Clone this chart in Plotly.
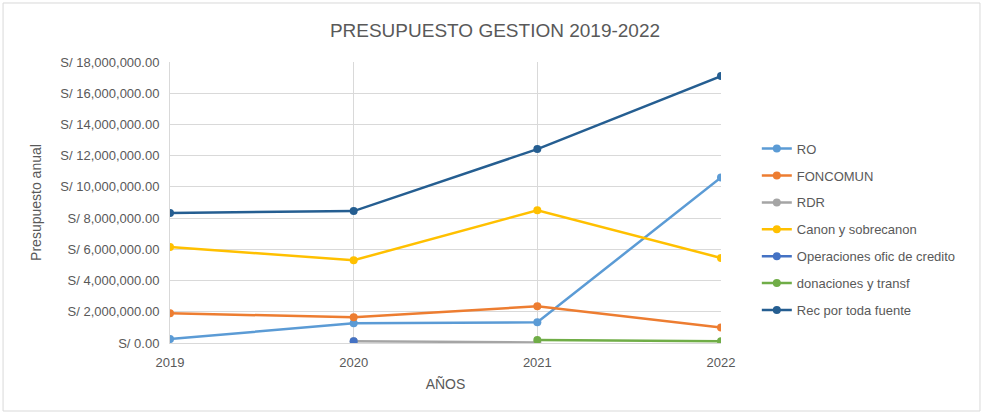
import plotly.graph_objects as go

years = [2019, 2020, 2021, 2022]

ro = [250000, 1270000, 1330000, 10600000]
foncomun = [1900000, 1650000, 2350000, 1000000]
rdr = [None, 120000, 40000, None]
canon = [6150000, 5300000, 8500000, 5450000]
operaciones = [None, 120000, None, None]
donaciones = [None, None, 200000, 120000]
rec_total = [8330000, 8450000, 12420000, 17100000]

y_ticks = [0, 2000000, 4000000, 6000000, 8000000, 10000000, 12000000, 14000000, 16000000, 18000000]
y_ticktext = [f"S/ {v:,.2f}" for v in y_ticks]

series = [
    ("RO", ro, "#5B9BD5"),
    ("FONCOMUN", foncomun, "#ED7D31"),
    ("RDR", rdr, "#A5A5A5"),
    ("Canon y sobrecanon", canon, "#FFC000"),
    ("Operaciones ofic de credito", operaciones, "#4472C4"),
    ("donaciones y transf", donaciones, "#70AD47"),
    ("Rec por toda fuente", rec_total, "#255E91"),
]

font = "Liberation Sans, Arial, sans-serif"

fig = go.Figure()
for name, vals, color in series:
    fig.add_trace(go.Scatter(
        x=years, y=vals, name=name, mode="lines+markers",
        line=dict(color=color, width=2.5),
        marker=dict(color=color, size=8),
        legendgroup=name,
    ))

fig.update_layout(
    width=986, height=414,
    paper_bgcolor="white", plot_bgcolor="white",
    margin=dict(l=170, r=265, t=62, b=71),
    font=dict(family=font, color="#595959", size=13),
    title=dict(text="PRESUPUESTO GESTION 2019-2022", x=0.502, y=0.9275,
               xanchor="center", yanchor="middle",
               font=dict(size=19, color="#595959")),
    legend=dict(x=1.065, y=0.745, xanchor="left", yanchor="top",
                font=dict(size=13, color="#595959"), tracegroupgap=7,
                itemwidth=30),
    showlegend=True,
)
fig.update_xaxes(
    range=[2019, 2022], tickvals=years, ticktext=[str(y) for y in years],
    showgrid=True, gridcolor="#D9D9D9", zeroline=False,
    showline=True, linecolor="#D9D9D9", ticks="", ticklabelstandoff=7,
    title=dict(text="AÑOS", font=dict(size=14, color="#595959"), standoff=10),
    tickfont=dict(size=13),
)
fig.update_yaxes(
    range=[0, 18000000], tickvals=y_ticks, ticktext=y_ticktext,
    showgrid=True, gridcolor="#D9D9D9", zeroline=False,
    showline=True, linecolor="#D9D9D9", ticks="", ticklabelstandoff=7,
    title=dict(text="Presupuesto anual", font=dict(size=14, color="#595959"), standoff=15),
    tickfont=dict(size=13),
)
fig.add_shape(type="rect", xref="paper", yref="paper", x0=-0.303, x1=1.47, y0=-0.242, y1=1.21,
              line=dict(color="#D9D9D9", width=1))

fig.write_html("out.html", config={"displayModeBar": False},
               post_script="document.body.style.margin='0';")
